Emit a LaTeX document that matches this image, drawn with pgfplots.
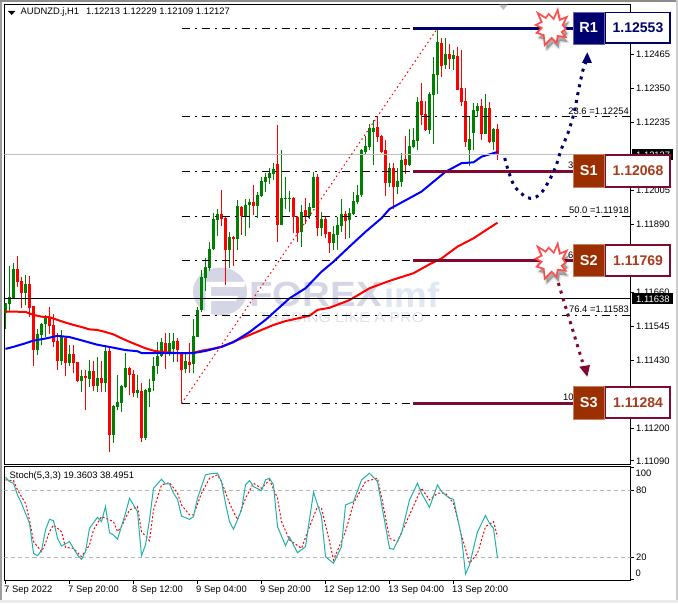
\documentclass[border=0pt]{standalone}
\usepackage{pgfplots}
\usepackage{pgfplotstable}
\usepackage{fontspec}
\setmainfont{Liberation Sans}
\pgfplotsset{compat=1.18}
\definecolor{mtgreen}{HTML}{008000}
\definecolor{mtred}{HTML}{FF0000}
\definecolor{navyl}{HTML}{00006E}
\definecolor{wine}{HTML}{7F0A2D}
\definecolor{boxbrown}{HTML}{9C2F00}
\definecolor{winetext}{HTML}{A83A1E}
\definecolor{seagreen}{HTML}{20B2AA}
\definecolor{wm}{HTML}{D5D6E5}
\definecolor{wmb}{HTML}{DFE8F2}
\definecolor{wmt}{HTML}{E0E0EA}
\pgfplotstableread{
k o h l c
0 1.11589 1.11625 1.11537 1.11625
1 1.11621 1.11749 1.11595 1.11646
2 1.11642 1.11761 1.11640 1.11738
5 1.11659 1.11719 1.11617 1.11688
8 1.11465 1.11537 1.11448 1.11519
9 1.11516 1.11558 1.11482 1.11553
10 1.11553 1.11584 1.11510 1.11572
14 1.11428 1.11533 1.11415 1.11510
16 1.11420 1.11482 1.11411 1.11452
19 1.11360 1.11398 1.11322 1.11377
21 1.11367 1.11431 1.11341 1.11394
23 1.11344 1.11443 1.11324 1.11371
25 1.11355 1.11482 1.11324 1.11463
27 1.11179 1.11279 1.11152 1.11276
28 1.11274 1.11381 1.11262 1.11288
29 1.11287 1.11347 1.11257 1.11344
30 1.11339 1.11454 1.11336 1.11404
33 1.11320 1.11381 1.11302 1.11330
35 1.11168 1.11332 1.11161 1.11330
36 1.11324 1.11366 1.11274 1.11336
37 1.11362 1.11443 1.11328 1.11411
38 1.11411 1.11493 1.11384 1.11445
39 1.11445 1.11505 1.11443 1.11493
41 1.11460 1.11524 1.11445 1.11490
42 1.11468 1.11524 1.11426 1.11496
45 1.11400 1.11460 1.11389 1.11428
47 1.11417 1.11569 1.11386 1.11513
48 1.11510 1.11612 1.11510 1.11600
49 1.11600 1.11735 1.11595 1.11713
50 1.11710 1.11778 1.11666 1.11745
51 1.11744 1.11829 1.11731 1.11807
52 1.11806 1.11928 1.11804 1.11908
53 1.11905 1.11942 1.11851 1.11924
56 1.11804 1.11864 1.11744 1.11847
58 1.11842 1.11973 1.11804 1.11953
60 1.11917 1.11975 1.11851 1.11955
61 1.11954 1.11977 1.11877 1.11965
63 1.11953 1.11998 1.11913 1.11990
64 1.11986 1.12050 1.11982 1.12036
65 1.12034 1.12065 1.11998 1.12050
66 1.12048 1.12080 1.12027 1.12063
67 1.12061 1.12097 1.12040 1.12078
69 1.11888 1.12142 1.11888 1.11980
70 1.11977 1.12050 1.11942 1.11980
71 1.11977 1.12004 1.11933 1.11980
74 1.11866 1.11956 1.11815 1.11933
76 1.11917 1.11962 1.11909 1.11948
77 1.11947 1.12066 1.11945 1.12050
79 1.11878 1.11932 1.11851 1.11908
82 1.11826 1.11885 1.11804 1.11857
83 1.11855 1.11914 1.11802 1.11887
84 1.11885 1.11976 1.11866 1.11924
86 1.11905 1.11945 1.11843 1.11928
87 1.11924 1.12001 1.11922 1.11969
88 1.11967 1.12024 1.11959 1.11990
89 1.11988 1.12145 1.11984 1.12142
90 1.12136 1.12189 1.12128 1.12155
91 1.12153 1.12230 1.12142 1.12215
92 1.12204 1.12243 1.12091 1.12215
96 1.12031 1.12099 1.12016 1.12081
98 1.12018 1.12080 1.11993 1.12037
99 1.12035 1.12131 1.12018 1.12108
101 1.12091 1.12212 1.12086 1.12155
102 1.12153 1.12215 1.12148 1.12176
103 1.12173 1.12320 1.12140 1.12304
106 1.12210 1.12339 1.12196 1.12331
107 1.12329 1.12457 1.12162 1.12399
108 1.12397 1.12550 1.12331 1.12507
110 1.12430 1.12522 1.12416 1.12466
112 1.12448 1.12480 1.12412 1.12463
116 1.12142 1.12252 1.12089 1.12178
117 1.12198 1.12302 1.12140 1.12277
118 1.12275 1.12302 1.12252 1.12291
120 1.12196 1.12331 1.12196 1.12285
122 1.12169 1.12216 1.12142 1.12212
}\upbars
\pgfplotstableread{
k o h l c
3 1.11738 1.11783 1.11677 1.11696
4 1.11700 1.11711 1.11606 1.11659
6 1.11688 1.11715 1.11578 1.11608
7 1.11614 1.11614 1.11411 1.11465
11 1.11576 1.11609 1.11519 1.11546
12 1.11550 1.11587 1.11476 1.11493
13 1.11496 1.11524 1.11398 1.11429
15 1.11507 1.11508 1.11377 1.11422
17 1.11452 1.11482 1.11386 1.11420
18 1.11425 1.11426 1.11358 1.11360
20 1.11377 1.11398 1.11262 1.11371
22 1.11394 1.11429 1.11328 1.11344
24 1.11371 1.11429 1.11324 1.11353
26 1.11463 1.11474 1.11121 1.11179
31 1.11404 1.11409 1.11313 1.11381
32 1.11384 1.11398 1.11307 1.11319
34 1.11327 1.11355 1.11153 1.11169
40 1.11488 1.11524 1.11400 1.11452
43 1.11496 1.11505 1.11426 1.11465
44 1.11456 1.11460 1.11285 1.11398
46 1.11426 1.11488 1.11389 1.11415
54 1.11924 1.12007 1.11883 1.11910
55 1.11912 1.11917 1.11686 1.11802
57 1.11849 1.11851 1.11748 1.11842
59 1.11949 1.11953 1.11855 1.11919
62 1.11965 1.12024 1.11922 1.11953
68 1.12095 1.12226 1.11829 1.11888
72 1.11980 1.11982 1.11860 1.11914
73 1.11914 1.11917 1.11832 1.11862
75 1.11938 1.11980 1.11892 1.11917
78 1.12050 1.12061 1.11851 1.11878
80 1.11908 1.11914 1.11843 1.11858
81 1.11865 1.11866 1.11795 1.11826
85 1.11924 1.11937 1.11840 1.11903
93 1.12218 1.12252 1.12170 1.12187
94 1.12189 1.12193 1.12133 1.12136
95 1.12142 1.12176 1.11986 1.12031
97 1.12081 1.12097 1.11941 1.12018
100 1.12110 1.12189 1.12061 1.12091
104 1.12306 1.12367 1.12226 1.12261
105 1.12264 1.12307 1.12207 1.12210
109 1.12505 1.12519 1.12390 1.12426
111 1.12466 1.12500 1.12416 1.12449
113 1.12460 1.12489 1.12345 1.12345
114 1.12351 1.12480 1.12291 1.12305
115 1.12307 1.12353 1.12151 1.12169
119 1.12291 1.12314 1.12176 1.12196
121 1.12285 1.12304 1.12164 1.12170
123 1.12213 1.12229 1.12109 1.12127
}\downbars
\newcommand{\burst}[2]{%
\begin{scope}[shift={(#1,#2)}]
\def\burstpath{(-14,-15)--(-6,-10)--(-3,-14)--(2,-9)--(6,-18)--(8,-8)--(15,-11)--(11,-3)--(14,1)--(10,4)--(14,9)--(6,8)--(5,15)--(0,10)--(-7,17)--(-8,7)--(-15,5)--(-10,0)--(-16,-3)--(-10,-6)--cycle}
\begin{scope}[shift={(2,5)}]\fill[black,opacity=.15,line join=round,draw=black,draw opacity=.1,line width=3pt] \burstpath;\fill[black,opacity=.2] \burstpath;\end{scope}
\filldraw[fill=white,draw=red!70!white,line width=1.7pt,line join=miter] \burstpath;
\end{scope}}
\newcommand{\lvlbox}[7]{% y-top, y-bottom, left colour, left edge, label, value colour, value
\fill[#3,draw=#4,line width=.7pt] (573,#1) rectangle (604.5,#2);
\node[white,font=\fontsize{14.5}{15}\selectfont\bfseries] at (588.7,{(#1+#2)/2}) {#5};
\filldraw[fill=white,draw=#6,line width=1.8pt] (605.5,{#1+.6}) rectangle (670.3,{#2-.6});
\node[#7,font=\fontsize{14}{15}\selectfont\bfseries,inner sep=0pt] at (638,{(#1+#2)/2}) {\lvlval};
}
\begin{document}
\begin{tikzpicture}
\path[use as bounding box] (0,0) rectangle (678pt,603pt);
\fill[white] (0,0) rectangle (678pt,603pt);
\begin{scope}[x=1pt,y=-1pt,yshift=603pt]
\fill[black!38] (0,0) rectangle (2.2,603);
\fill[black!45] (0,0) rectangle (678,2.2);
\fill[black!20] (675.8,0) rectangle (678,603);
\fill[black!8] (0,600) rectangle (678,603);
% watermark
\fill[wm] (220,291.5) ellipse (27 and 24);
\fill[white] (206,282)--(246,282)--(244,287)--(211,287)--(211,296)--(238,296)--(236,301)--(211,301)--(211,316)--(205,316)--cycle;
\node[wm,anchor=west,inner sep=0pt,xscale=1.1,font=\fontsize{35}{36}\selectfont\bfseries] at (249,294.5) {FOREX};
\node[wmb,anchor=west,inner sep=0pt,xscale=1.05,font=\fontsize{35}{36}\selectfont\bfseries] at (384,294.5) {imf};
\node[wmt,anchor=west,inner sep=0pt,xscale=1.14,font=\fontsize{14}{15}\selectfont] at (259,318) {TRADING LIKE A PRO};
\end{scope}
\begin{axis}[
  name=main, at={(4.5pt,138.5pt)}, anchor=south west, scale only axis,
  width=626pt, height=460pt,
  xmin=-0.25, xmax=156.25, ymin=1.110780, ymax=1.126338,
  axis line style={black,line width=1pt},
  xtick=\empty,
  ytick pos=right, yticklabel pos=right, tick align=outside,
  major tick length=3pt, tick style={black,line width=1pt},
  ytick={1.12465,1.12350,1.12235,1.12005,1.11890,1.11660,1.11545,1.11430,1.11200,1.11090},
  yticklabels={1.12465,1.12350,1.12235,1.12005,1.11890,1.11660,1.11545,1.11430,1.11200,1.11090},
  y tick label style={font=\fontsize{9.4}{10}\selectfont,anchor=west,inner xsep=0pt,xshift=2.5pt},
  scaled y ticks=false,
]
% candles: wicks then bodies
\addplot[draw=none,forget plot,error bars/.cd,y dir=plus,y explicit,error mark=none,error bar style={mtgreen,line width=1pt}] table[x=k,y=l,y error expr=\thisrow{h}-\thisrow{l}] {\upbars};
\addplot[draw=none,forget plot,error bars/.cd,y dir=plus,y explicit,error mark=none,error bar style={mtgreen,line width=3pt}] table[x=k,y=o,y error expr=\thisrow{c}-\thisrow{o}] {\upbars};
\addplot[draw=none,forget plot,error bars/.cd,y dir=plus,y explicit,error mark=none,error bar style={mtred,line width=1pt}] table[x=k,y=l,y error expr=\thisrow{h}-\thisrow{l}] {\downbars};
\addplot[draw=none,forget plot,error bars/.cd,y dir=plus,y explicit,error mark=none,error bar style={mtred,line width=3pt}] table[x=k,y=c,y error expr=\thisrow{o}-\thisrow{c}] {\downbars};
% moving averages
\addplot[mtred,line width=2pt] coordinates {(0,1.11595)(2,1.11595)(5,1.11594)(7,1.11584)(9,1.11578)(11,1.11576)(13,1.11567)(15,1.11558)(17,1.11550)(19,1.11543)(21,1.11535)(23,1.11533)(25,1.11526)(27,1.11518)(29,1.11505)(31,1.11493)(33,1.11482)(35,1.11471)(37,1.11463)(39,1.11459)(42,1.11456)(44,1.11454)(47,1.11456)(49,1.11463)(52,1.11470)(54,1.11476)(61,1.11516)(67,1.11550)(70,1.11563)(76,1.11581)(78,1.11601)(81,1.11608)(86,1.11634)(91,1.11674)(96,1.11699)(102,1.11725)(106,1.11755)(109,1.11775)(113,1.11815)(117,1.11843)(123,1.11896)};
\addplot[blue,line width=2pt] coordinates {(0,1.11469)(2,1.11476)(5,1.11488)(7,1.11497)(10,1.11504)(13,1.11513)(16,1.11509)(19,1.11498)(23,1.11483)(27,1.11473)(30,1.11465)(33,1.11461)(34,1.11455)(39,1.11455)(44,1.11455)(47,1.11455)(50,1.11462)(54,1.11476)(57,1.11492)(61,1.11526)(65,1.11567)(71,1.11640)(75,1.11674)(79,1.11730)(82,1.11764)(86,1.11815)(90,1.11865)(94,1.11911)(96,1.11942)(104,1.12001)(110,1.12068)(114,1.12097)(117,1.12100)(119,1.12119)(123,1.12135)};
% horizontal price lines
\addplot[black!25,line width=1pt] coordinates {(-0.25,1.12127)(156.25,1.12127)};
\addplot[black,line width=1pt] coordinates {(-0.25,1.11638)(156.25,1.11638)};
% fibonacci levels and trend
\addplot[red,line width=1pt,dash pattern=on 1.5pt off 3pt] coordinates {(44,1.11284)(108,1.12553)};
\pgfplotsinvokeforeach{1.12553,1.12254,1.12068,1.11918,1.11769,1.11583,1.11284}{
  \addplot[black,line width=1pt,dash pattern=on 8pt off 5pt on 2pt off 5pt] coordinates {(44,#1)(156.25,#1)};
}
% level lines
\addplot[navyl,line width=3pt] coordinates {(101.9,1.12553)(142.5,1.12553)};
\addplot[wine,line width=3pt] coordinates {(101.9,1.12068)(142.5,1.12068)};
\addplot[wine,line width=3pt] coordinates {(101.9,1.11769)(142.5,1.11769)};
\addplot[wine,line width=3pt] coordinates {(101.9,1.11284)(142.5,1.11284)};
\end{axis}
\begin{axis}[
  name=stoch, at={(4.5pt,22.5pt)}, anchor=south west, scale only axis,
  width=626pt, height=114pt,
  xmin=-0.25, xmax=156.25, ymin=-0.7, ymax=101.3,
  axis line style={black,line width=1pt},
  ytick pos=right, yticklabel pos=right, xtick pos=bottom, tick align=outside,
  major tick length=3pt, tick style={black,line width=1pt},
  ytick={0,20,80,100}, yticklabels={,20,80,},
  y tick label style={font=\fontsize{9.4}{10}\selectfont,anchor=west,inner xsep=0pt,xshift=2.5pt},
  xtick={0,16,32,48,64,80,96,112},
  xticklabels={7 Sep 2022,7 Sep 20:00,8 Sep 12:00,9 Sep 04:00,9 Sep 20:00,12 Sep 12:00,13 Sep 04:00,13 Sep 20:00},
  x tick label style={font=\fontsize{9.4}{10}\selectfont,anchor=north west,inner xsep=0pt,inner ysep=0pt,xshift=-1.5pt,yshift=-2.5pt},
]
\addplot[black!28,line width=1pt,dash pattern=on 4pt off 3pt] coordinates {(-0.25,80)(156.25,80)};
\addplot[black!28,line width=1pt,dash pattern=on 4pt off 3pt] coordinates {(-0.25,20)(156.25,20)};
\addplot[red,line width=1pt,dash pattern=on 2pt off 2pt] coordinates {(0,89.3)(2,88.7)(3,80.3)(5,68.4)(6,53.5)(7,34.1)(9,25.1)(10,32.6)(11,43)(12,49)(14,43)(15,29)(17,28.1)(19,20.6)(21,31.1)(22,44.5)(24,56.5)(27,52)(28,43)(29,47.5)(31,62.4)(33,65.4)(34,43)(36,35)(37,62.4)(39,84.8)(41,86.9)(43,77.4)(44,66.9)(46,58)(47,58)(49,77.4)(51,90.8)(53,93.8)(54,87.8)(56,68.4)(58,53.5)(60,72.9)(62,86.3)(64,81.8)(66,89.3)(68,72.9)(69,52)(71,35.6)(74,28.1)(76,47.5)(78,65.4)(79,63.9)(81,34.1)(82,17.7)(85,43)(87,68.4)(90,87.8)(93,90.8)(94,74.4)(96,37)(98,34.1)(101,58)(104,81.8)(106,71.4)(108,77.4)(110,77.4)(112,68.4)(114,40)(116,14.7)(118,23.6)(120,47.5)(122,52)(123,38.4951)};
\addplot[seagreen,line width=1pt] coordinates {(0,91.7)(1,87.8)(2,86.3)(3,75.9)(4,68.4)(6,50.5)(7,23.6)(8,21.5)(9,26)(10,44.5)(11,54)(12,52.9)(13,37.1)(14,30.2)(16,34.1)(17,28.1)(18,22.1)(19,18.2)(20,25.1)(21,46)(23,55.9)(24,52)(25,65.4)(26,42.1)(27,40)(28,36.2)(30,59.4)(31,72.9)(32,66.9)(33,60.9)(34,21.5)(35,31.1)(36,53.5)(37,81.8)(39,89.9)(40,85.7)(41,85.7)(42,77.4)(43,72)(44,57)(46,54)(47,56.5)(48,72.9)(50,93.8)(51,94.7)(53,95.3)(54,87.8)(55,68.4)(56,52)(57,45.1)(59,62.4)(60,84.8)(61,88.7)(62,83.3)(64,79.7)(65,89.3)(66,90.8)(67,84.8)(68,47.5)(70,30.5)(71,38)(73,24.2)(75,29.6)(77,78.2)(79,56.5)(80,20.6)(82,14.7)(84,29.6)(85,66.9)(87,69.9)(89,89.3)(91,95.3)(93,87.8)(96,28.1)(97,27.2)(99,41.5)(101,71.4)(103,86.3)(104,77.4)(106,64.8)(108,84.8)(109,78.8)(111,72.9)(112,72)(114,38.5)(115,5.1)(116,13.2)(118,43)(120,57.4)(121,50.5)(122,46)(123,19.3603)};
\end{axis}
\begin{scope}[x=1pt,y=-1pt,yshift=603pt,every node/.style={font=\fontsize{9.4}{10}\selectfont}]
% header text
\fill[black] (8,11)--(15.3,11)--(11.7,15)--cycle;
\fill[black!25] (499,4.7)--(507.7,4.7)--(503.3,10)--cycle;
\node[anchor=west,inner sep=0pt] at (20.5,12.5) {AUDNZD.j,H1\hspace{7pt}1.12213 1.12229 1.12109 1.12127};
\node[anchor=west,inner sep=0pt] at (9.5,476) {Stoch(5,3,3) 19.3603 38.4951};
\node[anchor=west,inner sep=0pt] at (635.5,473) {100};
\node[anchor=west,inner sep=0pt] at (635.5,573) {0};
% fibonacci labels (the flags hide all but the first characters of three of them)
\node[anchor=east,inner sep=0pt] at (629,111.7) {23.6 =1.12254};
\node[anchor=west,inner sep=0pt] at (568,165.5) {3};
\node[anchor=east,inner sep=0pt] at (629,210.7) {50.0 =1.11918};
\node[anchor=west,inner sep=0pt] at (568,255) {6};
\node[anchor=east,inner sep=0pt] at (629,309.3) {76.4 =1.11583};
\node[anchor=west,inner sep=0pt] at (563,397) {10};
% current price flags
\fill[black] (632,149.3) rectangle (673,160);
\node[white,anchor=west,inner sep=0pt] at (636,154.8) {1.12127};
\fill[black] (632,293.3) rectangle (673,304);
\node[white,anchor=west,inner sep=0pt] at (636,298.8) {1.11638};
% projected paths
\draw[navyl,line width=3pt,dash pattern=on 3pt off 5pt] plot[smooth] coordinates {(504.7,158)(509,173)(515,187)(526,197)(534,198)(542,192)(550,179)(556,166)(561,150)(568,133)(574,113)(579,88)(583,70)(586,62)};
\fill[navyl] (587.3,52.3)--(592,63)--(582,63)--cycle;
\draw[wine,line width=3pt,dash pattern=on 3pt off 5pt] (558.3,283)--(582.5,362);
\fill[wine] (579.3,366.7)--(590,365)--(587.3,376.7)--cycle;
% bursts
\burst{551.7}{28}
\burst{551.7}{261.7}
% level boxes
\def\lvlval{1.12553}
\lvlbox{12}{44}{navyl}{navyl!60!white}{R1}{navyl}{navyl}
\def\lvlval{1.12068}
\lvlbox{154.7}{187.3}{boxbrown}{boxbrown!60!white}{S1}{wine}{winetext}
\def\lvlval{1.11769}
\lvlbox{244.7}{276.7}{boxbrown}{boxbrown!60!white}{S2}{wine}{winetext}
\def\lvlval{1.11284}
\lvlbox{386.7}{419}{boxbrown}{boxbrown!60!white}{S3}{wine}{winetext}
\end{scope}
\end{tikzpicture}
\end{document}
